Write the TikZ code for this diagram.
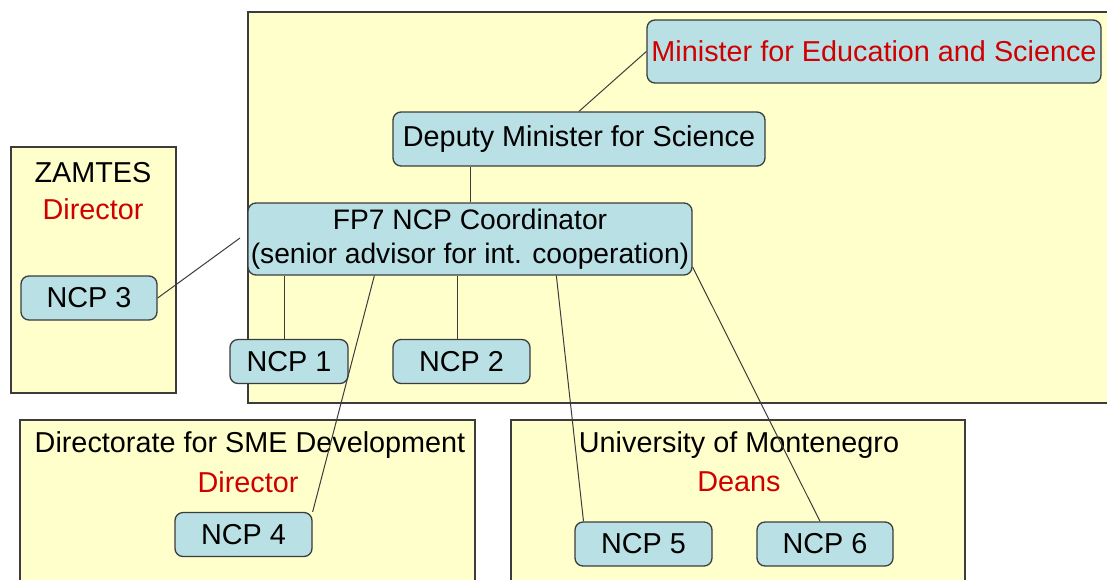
\documentclass[tikz,border=0pt]{standalone}
\usepackage{xcolor}
\usepackage{fontspec}
\setmainfont{Liberation Sans}
\usetikzlibrary{calc}
\definecolor{unitfill}{HTML}{FFFFCC}
\definecolor{ncpfill}{HTML}{B9E0E4}
\definecolor{rolered}{HTML}{D00000}
\definecolor{edgegray}{HTML}{3C3C3C}

\begin{document}
\begin{tikzpicture}[x=1pt,y=-1pt,
    every node/.style={font=\fontsize{28.8}{34}\selectfont},
    unit/.style={draw=edgegray,fill=unitfill,line width=1.3pt},
    post/.style={draw=edgegray,fill=ncpfill,rounded corners=8pt,
      line width=1.3pt,inner sep=0pt,align=center},
    role/.style={text=rolered},
    link/.style={draw=edgegray,line width=1pt}]
  \clip (0,0) rectangle (1107,579);%
  \fill[white] (0,0) rectangle (1107,579);%

  % organisations
  \draw[unit] (248,12) rectangle (1120,403);%
  \draw[unit] (11,147) rectangle (176,393);%
  \draw[unit] (20,420) rectangle (475,590);%
  \draw[unit] (511,420) rectangle (965,590);%

  \node (zamtes) at (93,173) {ZAMTES};%
  \node[role] (zamtesdir) at (93,209) {Director};%
  \node (sme) at (250,445) {Directorate for SME Development};%
  \node[role] (smedir) at (248,482) {Director};%
  \node (uom) at (739,445) {University of Montenegro};%
  \node[role] (deans) at (739,482) {Deans};%

  % posts
  \node[post,minimum width=454,minimum height=63,text=rolered] (minister)
    at (874,51.5) {Minister for Education and Science};%
  \node[post,minimum width=372,minimum height=54] (deputy) at (579,139)
    {Deputy Minister for Science};%
  \node[post,minimum width=444,minimum height=72,
    font=\fontsize{28.2}{34}\selectfont] (coord) at (470,239)
    {FP7 NCP Coordinator\\(senior advisor for int. cooperation)};%
  \foreach \n/\x/\y/\w in {3/89/298/136, 1/289/361.5/118, 2/461.5/361.5/137,
      4/243.5/534.5/137, 5/643.5/544/137, 6/825/544/136} {%
    \node[post,minimum width=\w,minimum height=44] (ncp\n) at (\x,\y) {NCP \n}; }%

  % links
  \coordinate (ncp3end) at (240,238);%
  \draw[link] (deputy.north) -- (minister.west);%
  \draw[link] (coord.north) -- (coord.north |- deputy.south);%
  \draw[link] (ncp3.east) -- (ncp3end);%
  \draw[link] ([xshift=-5]ncp1.north) -- ([xshift=-5]ncp1.north |- coord.south);%
  \draw[link] ([xshift=-4]ncp2.north) -- ([xshift=-4]ncp2.north |- coord.south);%
  \draw[link] (ncp4.north east) -- ($(coord.south west)+(127,0)$);%
  \draw[link] ([xshift=-60]ncp5.north) -- ($(coord.south west)+(309,0)$);%
  \draw[link] ([xshift=-5]ncp6.north) -- ($(coord.east)+(0,28)$);%
\end{tikzpicture}
\end{document}
